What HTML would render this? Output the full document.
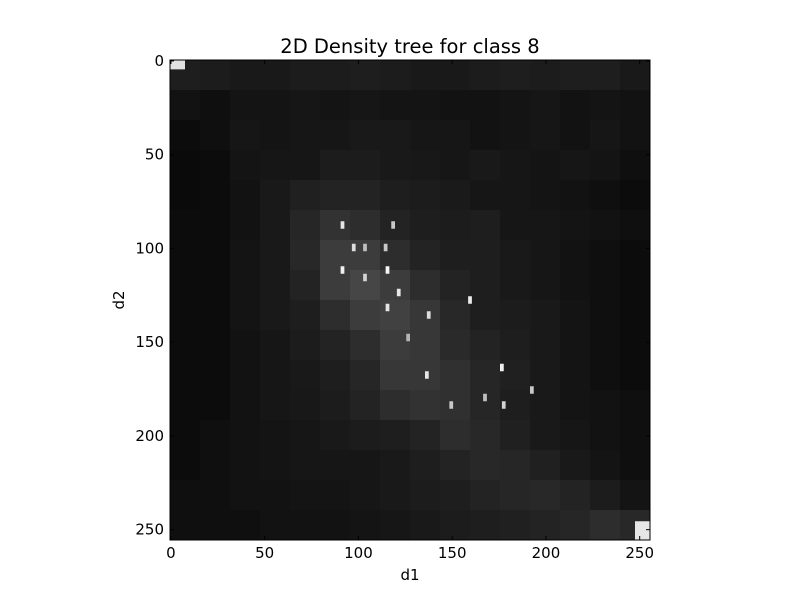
<!DOCTYPE html>
<html><head><meta charset="utf-8"><style>
body{margin:0;background:#fff;}
svg{display:block;font-family:"DejaVu Sans","Liberation Sans",sans-serif;}
</style></head><body>
<svg id="chart" width="800" height="600">
<rect width="800" height="600" fill="#fff"/>
<text x="410" y="53" font-size="19.5" text-anchor="middle">2D Density tree for class 8</text>
<g id="cells"></g>
<g id="axes"></g>
<text x="410" y="580" font-size="15" text-anchor="middle">d1</text>
<text x="124" y="300" font-size="15" text-anchor="middle" transform="rotate(-90 124 300)">d2</text>
</svg>
<script>
const gridSize = 16;
const gridValues = [
[30,28,25,25,28,28,30,28,25,25,28,30,28,30,30,25],
[18,15,20,20,22,20,22,20,20,18,18,20,22,18,20,18],
[12,15,22,20,22,22,25,25,22,22,18,20,22,18,22,18],
[10,12,20,22,22,28,28,25,24,22,25,22,20,22,20,15],
[10,12,18,25,32,35,35,30,28,26,22,22,20,18,15,12],
[12,12,18,25,38,50,45,35,30,28,30,22,22,20,18,15],
[12,12,20,25,40,60,60,45,35,30,30,25,22,18,15,12],
[12,12,20,25,35,60,70,60,45,35,30,25,22,18,15,12],
[12,12,20,25,30,45,60,65,55,40,30,28,25,20,15,12],
[12,12,18,22,28,35,45,60,55,42,35,30,25,20,15,12],
[12,12,18,22,25,30,38,55,55,48,38,32,25,20,15,12],
[12,12,18,22,24,28,35,45,50,48,38,30,25,20,18,15],
[12,15,18,20,22,25,28,30,35,45,40,32,25,22,18,15],
[12,15,18,20,22,22,22,25,30,35,40,38,32,25,20,15],
[15,15,18,18,20,20,22,25,28,30,35,38,40,35,28,20],
[15,15,15,18,18,18,20,22,25,28,30,32,35,38,45,40]
];
const spotX = [91,118,97,103,114,91,115,103,121,159,115,137,136,176,149,177,167,192,126];
const spotY = [86,86,98,98,98,110,110,114,122,126,130,134,166,162,182,182,178,174,146];
const spotV = [230,200,220,190,200,240,245,210,230,235,230,220,230,240,200,210,190,200,180];
const cornerX = [0,248];
const cornerY = [0,246];
const cornerW = [8,8];
const cornerH = [5,10];
const cornerV = [225,230];
const xTicks = [0,50,100,150,200,250];
const yTicks = [0,50,100,150,200,250];

const X0=170, Y0=60, S=480/256;
const sx = v => X0 + v*S;
const sy = v => Y0 + v*S;
const NS='http://www.w3.org/2000/svg';
const cells=document.getElementById('cells');
const step=256/gridSize;
function gray(v){v=Math.round(v);return `rgb(${v},${v},${v})`;}
gridValues.forEach((row,r)=>row.forEach((v,c)=>{
  const e=document.createElementNS(NS,'rect');
  e.setAttribute('x',sx(c*step));e.setAttribute('y',sy(r*step));
  e.setAttribute('width',step*S+0.5);e.setAttribute('height',step*S+0.5);
  e.setAttribute('fill',gray(v));
  
  
  cells.appendChild(e);
}));
spotX.forEach((x,i)=>{
  const e=document.createElementNS(NS,'rect');
  e.setAttribute('x',sx(x));e.setAttribute('y',sy(spotY[i]));
  e.setAttribute('width',2*S);e.setAttribute('height',4*S);
  e.setAttribute('fill',gray(spotV[i]));
  
  
  cells.appendChild(e);
});
cornerX.forEach((x,i)=>{
  const e=document.createElementNS(NS,'rect');
  e.setAttribute('x',sx(x));e.setAttribute('y',sy(cornerY[i]));
  e.setAttribute('width',cornerW[i]*S);e.setAttribute('height',cornerH[i]*S);
  e.setAttribute('fill',gray(cornerV[i]));
  
  
  cells.appendChild(e);
});
const axes=document.getElementById('axes');
const frame=document.createElementNS(NS,'rect');
frame.setAttribute('x',X0);frame.setAttribute('y',Y0);frame.setAttribute('width',480);frame.setAttribute('height',480);
frame.setAttribute('fill','none');frame.setAttribute('stroke','#000');


axes.appendChild(frame);
function line(x1,y1,x2,y2){const l=document.createElementNS(NS,'line');l.setAttribute('x1',x1);l.setAttribute('y1',y1);l.setAttribute('x2',x2);l.setAttribute('y2',y2);l.setAttribute('stroke','#000');axes.appendChild(l);return l;}
xTicks.forEach(t=>{
  const x=sx(t+0.5);
  const l1=line(x,Y0+480,x,Y0+476);
  
  
  line(x,Y0,x,Y0+4);
  const tx=document.createElementNS(NS,'text');
  tx.setAttribute('x',x);tx.setAttribute('y',558);tx.setAttribute('font-size','15');tx.setAttribute('text-anchor','middle');
  tx.textContent=t;
  
  
  axes.appendChild(tx);
});
yTicks.forEach(t=>{
  const y=sy(t+0.5);
  const l1=line(X0,y,X0+4,y);
  
  
  line(X0+480,y,X0+476,y);
  const tx=document.createElementNS(NS,'text');
  tx.setAttribute('x',164);tx.setAttribute('y',y+5);tx.setAttribute('font-size','15');tx.setAttribute('text-anchor','end');
  tx.textContent=t;
  
  
  axes.appendChild(tx);
});
</script>
</body></html>
